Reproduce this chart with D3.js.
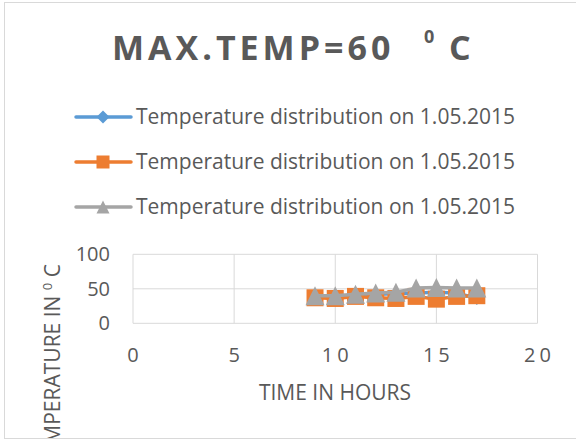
<!DOCTYPE html>
<meta charset="utf-8">
<head>
  <title>Max temp chart</title>
  <script src="https://d3js.org/d3.v7.min.js"></script>
  <style>
    body { margin: 0; background: #fff; }
    text { font-family: "Open Sans", sans-serif; fill: #595959; }
  </style>
</head>
<body>
<div id="chart"></div>
<script>
// data
const hours = [9, 10, 11, 12, 13, 14, 15, 16, 17];
const seriesNames = ["Temperature distribution on 1.05.2015",
                     "Temperature distribution on 1.05.2015",
                     "Temperature distribution on 1.05.2015"];
const blueTemps   = [38, 38, 40, 42, 43, 44, 45, 44, 36];
const orangeTemps = [37, 36, 39, 37, 36, 39, 35, 39, 40];
const grayTemps   = [40, 40, 42, 44, 45, 51, 52, 51, 51];
const xTicks = [0, 5, 10, 15, 20];
const yTicks = [0, 50, 100];
const colors = ["#5b9bd5", "#ed7d31", "#a5a5a5"];
const shapes = ["diamond", "square", "triangle"];

const W = 576, H = 441;
const svg = d3.select("#chart").append("svg")
  .attr("width", W).attr("height", H);

svg.append("clipPath").attr("id", "frameClip")
  .append("rect").attr("x", 4).attr("y", 2).attr("width", 580).attr("height", 436);

svg.append("rect")
  .attr("x", 4.5).attr("y", 2.5).attr("width", 590).attr("height", 436)
  .attr("fill", "#fff").attr("stroke", "#d9d9d9");

const x = d3.scaleLinear().domain([0, 20]).range([133, 537.5]);
const y = d3.scaleLinear().domain([0, 100]).range([323.3, 254.3]);

// grid
svg.append("g").selectAll("line").data(xTicks).enter().append("line")
  .attr("x1", d => x(d)).attr("x2", d => x(d))
  .attr("y1", y(0)).attr("y2", y(100))
  .attr("stroke", "#d9d9d9").attr("stroke-width", 1);
svg.append("g").selectAll("line").data(yTicks).enter().append("line")
  .attr("x1", x(0)).attr("x2", x(20))
  .attr("y1", d => y(d)).attr("y2", d => y(d))
  .attr("stroke", "#d9d9d9").attr("stroke-width", 1);

// tick labels
svg.append("g").selectAll("text").data(yTicks).enter().append("text")
  .attr("x", 110).attr("y", d => y(d) + 7)
  .attr("text-anchor", "end").style("font-size", "20px")
  .text(d => d);
svg.append("g").selectAll("text").data(xTicks).enter().append("text")
  .attr("x", d => x(d) + 2).attr("y", 362)
  .attr("text-anchor", "middle").style("font-size", "20px")
  .style("letter-spacing", "4px")
  .text(d => d);

// axis titles
svg.append("text").attr("x", 335).attr("y", 400)
  .attr("text-anchor", "middle").style("font-size", "21px")
  .text("TIME IN HOURS");

// y title is cut by the chart frame, as in the original
const yt = svg.append("g").attr("clip-path", "url(#frameClip)")
  .append("text")
  .attr("transform", "translate(60,264) rotate(-90)")
  .attr("text-anchor", "end").style("font-size", "21px");
yt.append("tspan").text("TEMPERATURE IN ");
yt.append("tspan").attr("dy", -8).style("font-size", "13px").text("0");
yt.append("tspan").attr("dy", 8).text(" C");

// title
const title = svg.append("text").attr("x", 112).attr("y", 60)
  .style("font-size", "34px").style("font-weight", "bold")
  .style("letter-spacing", "4px");
title.append("tspan").text("MAX.TEMP=60");
title.append("tspan").attr("x", 424).attr("dy", -17).style("font-size", "18px")
  .style("letter-spacing", "0px").text("0");
title.append("tspan").attr("x", 449).attr("dy", 17).text("C");

function markerPath(shape, s) {
  const h = s / 2;
  if (shape === "square") return `M${-h},${-h}H${h}V${h}H${-h}Z`;
  if (shape === "diamond") return `M0,${-h}L${h},0L0,${h}L${-h},0Z`;
  return `M0,${-h}L${h},${h}L${-h},${h}Z`;
}

// series
const allSeries = [blueTemps, orangeTemps, grayTemps];
const line = d3.line().x((d, i) => x(hours[i])).y(d => y(d));
allSeries.forEach((vals, k) => {
  const g = svg.append("g");
  g.append("path").datum(vals)
    .attr("d", line).attr("fill", "none")
    .attr("stroke", colors[k]).attr("stroke-width", 3.5)
    .attr("stroke-linejoin", "round");
  const size = shapes[k] === "triangle" ? 19 : shapes[k] === "square" ? 17 : 13;
  g.selectAll("path.m").data(vals).enter().append("path").attr("class", "m")
    .attr("transform", (d, i) => `translate(${x(hours[i])},${y(d)})`)
    .attr("d", markerPath(shapes[k], size))
    .attr("fill", colors[k]);
});

// legend
const leg = svg.append("g");
seriesNames.forEach((name, k) => {
  const cy = 117 + k * 45;
  leg.append("line").attr("x1", 76).attr("x2", 131)
    .attr("y1", cy).attr("y2", cy)
    .attr("stroke", colors[k]).attr("stroke-width", 3.5)
    .attr("stroke-linecap", "round");
  leg.append("path")
    .attr("transform", `translate(103,${cy})`)
    .attr("d", markerPath(shapes[k], 13))
    .attr("fill", colors[k]);
  leg.append("text").attr("x", 136).attr("y", cy + 7)
    .style("font-size", "21px").text(name);
});
</script>
</body>
